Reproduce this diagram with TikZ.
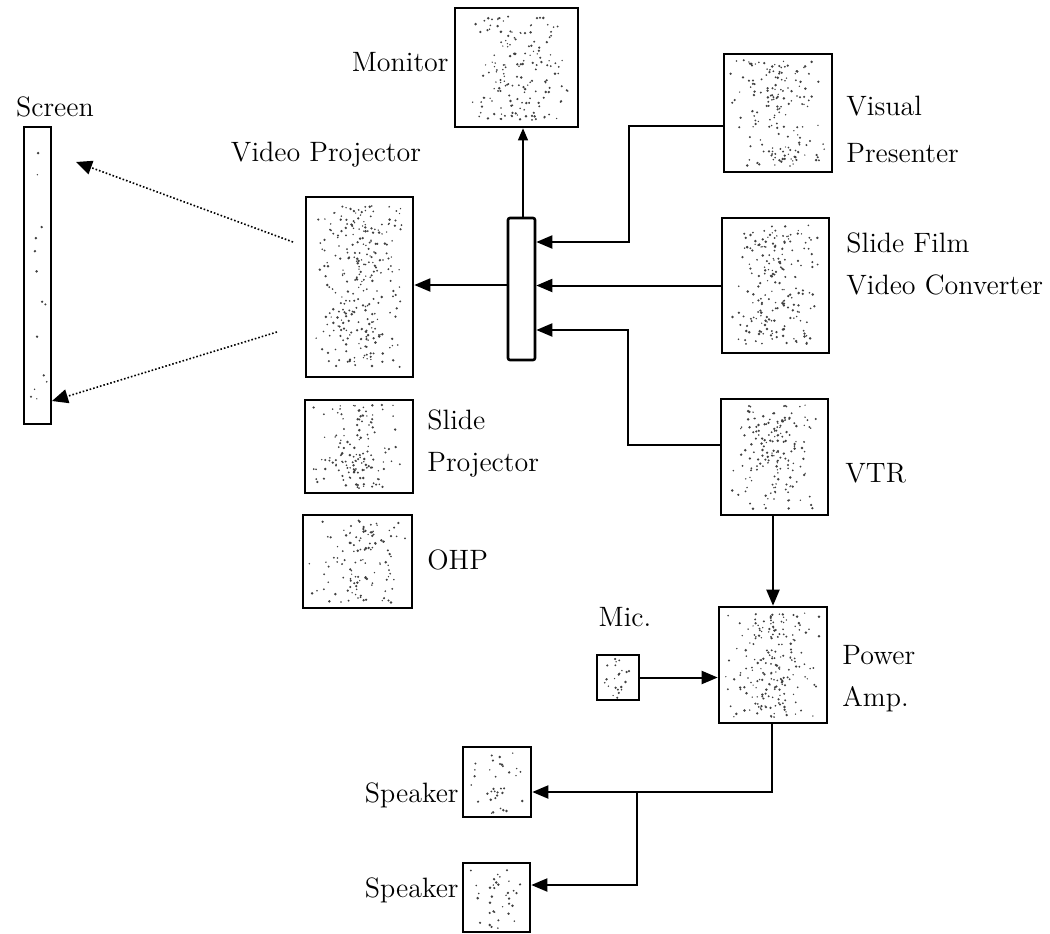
\documentclass[tikz,border=0pt]{standalone}
\usetikzlibrary{arrows.meta,calc}
\begin{document}
\begin{tikzpicture}[x=0.5pt,y=-0.5pt,
  box/.style={draw=black,line width=1.3pt,fill=white,inner sep=0pt,rectangle},
  stip/.style={path picture={
    \foreach \k in {1,...,#1}{
      \pgfmathsetmacro{\rx}{0.05+0.9*(rnd+rnd)/2}
      \pgfmathsetmacro{\ry}{0.05+0.9*rnd}
      \pgfmathsetmacro{\rr}{0.35+0.35*rnd}
      \coordinate (dx) at ($(path picture bounding box.south west)!\rx!(path picture bounding box.south east)$);
      \coordinate (dy) at ($(path picture bounding box.south west)!\ry!(path picture bounding box.north west)$);
      \fill[black!75] (dx |- dy) circle (\rr pt);
    }}},
  lbl/.style={inner sep=0pt,font=\fontsize{14}{21}\selectfont,align=left},
  arr/.style={line width=1pt,-{Triangle[length=8pt,width=6.5pt]}},
  thinarr/.style={line width=0.6pt,-{Triangle[length=6pt,width=5pt]}},
  dotarr/.style={line width=0.8pt,densely dotted,-{Triangle[length=8pt,width=7pt]}}
]
\pgfmathsetseed{12}
\useasboundingbox (0,0) rectangle (1050,933);

% boxes
\node[box,stip=14,minimum width=13.5pt,minimum height=148.5pt] (screen) at (37.5,275.5) {};
\node[box,stip=280,minimum width=53.5pt,minimum height=90pt] (vp) at (359.5,287) {};
\node[box,stip=170,minimum width=61.5pt,minimum height=59.5pt] (monitor) at (516.5,67.5) {};
\node[box,minimum width=13.5pt,minimum height=71pt,rounded corners=1pt] (sw) at (521.5,289) {};
\node[box,stip=170,minimum width=54pt,minimum height=59pt] (vpres) at (778,113) {};
\node[box,stip=200,minimum width=53.5pt,minimum height=67.5pt] (sfvc) at (775.5,285.5) {};
\node[box,stip=170,minimum width=53.5pt,minimum height=58pt] (vtr) at (774.5,457) {};
\node[box,stip=140,minimum width=54pt,minimum height=46.5pt] (sp) at (359,446.5) {};
\node[box,stip=120,minimum width=54.5pt,minimum height=46.5pt] (ohp) at (357.5,561.5) {};
\node[box,stip=22,minimum width=21pt,minimum height=22.5pt] (mic) at (618,677.5) {};
\node[box,stip=200,minimum width=54pt,minimum height=58pt] (pa) at (773,665) {};
\node[box,stip=35,minimum width=34pt,minimum height=35pt] (spk1) at (497,782) {};
\node[box,stip=35,minimum width=33.5pt,minimum height=34.5pt] (spk2) at (496.5,897.5) {};

% labels
\node[lbl] (lscreen) at (55,107) {Screen};
\node[lbl] (lvp) at (326,155) {Video Projector};
\node[lbl,anchor=east] (lmon) at (449,62) {Monitor};
\node[lbl,anchor=west,font=\fontsize{14}{23.5}\selectfont] (lvpres) at (846,129) {Visual\\Presenter};
\node[lbl,anchor=west] (lsfvc) at (846,264) {Slide Film\\Video Converter};
\node[lbl,anchor=west] (lsp) at (427,443) {Slide\\Projector};
\node[lbl,anchor=west] (lohp) at (427,560) {OHP};
\node[lbl,anchor=west] (lvtr) at (845,473) {VTR};
\node[lbl] (lmic) at (625,617) {Mic.};
\node[lbl,anchor=west] (lpa) at (842,679) {Power\\Amp.};
\node[lbl,anchor=east] (lspk1) at (459,795) {Speaker};
\node[lbl,anchor=east] (lspk2) at (459,890) {Speaker};

% connectors
\draw[arr] (vpres.west |- 0,126) -| (629,242) -- (sw.east |- 0,242);
\draw[arr] (sfvc.west) -- (sw.east |- sfvc.west);
\draw[arr] (vtr.west |- 0,445) -| (628,330) -- (sw.east |- 0,330);
\draw[arr] (sw.west |- 0,285) -- (vp.east |- 0,285);
\draw[thinarr] (sw.north -| 523,0) -- (monitor.south -| 523,0);

\coordinate (p1) at (293,242);
\coordinate (s1) at (76,162);
\coordinate (p2) at (277,332);
\coordinate (s2) at (52,401);
\draw[dotarr] (p1) -- (s1);
\draw[dotarr] (p2) -- (s2);

\draw[arr] (vtr.south -| 773,0) -- (pa.north -| 773,0);
\draw[arr] (mic.east) -- (pa.west |- mic.east);
\draw[arr] (pa.south -| 772,0) |- (spk1.east |- 0,792);
\coordinate (br) at (637,792);
\draw[arr] (br) |- (spk2.east |- 0,885);
\end{tikzpicture}
\end{document}
